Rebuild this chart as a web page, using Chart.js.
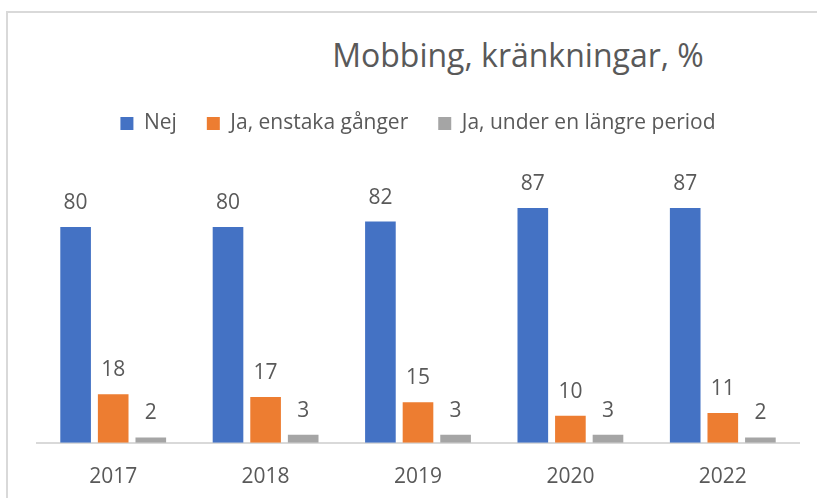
<!DOCTYPE html>
<html lang="sv">
<head>
<meta charset="utf-8">
<title>Mobbing, kränkningar, %</title>
<script src="https://cdn.jsdelivr.net/npm/chart.js@4.4.1/dist/chart.umd.min.js"></script>
<style>
  html, body { margin: 0; padding: 0; background: #fff; overflow: hidden; }
  #wrap { position: relative; width: 817px; height: 498px; }
  #frame {
    position: absolute; left: 6px; top: 11px; width: 900px; height: 600px;
    border: 2px solid #D9D9D9; box-sizing: border-box;
  }
  #title {
    position: absolute; left: 518px; top: 34px; transform: translateX(-50%);
    font-family: "Open Sans", sans-serif; font-size: 32px; color: #595959;
    white-space: nowrap; line-height: 42px;
  }
  #chart { position: absolute; left: 0; top: 0; }
</style>
</head>
<body>
<div id="wrap">
  <div id="frame"></div>
  <div id="title">Mobbing, kränkningar, %</div>
  <canvas id="chart" width="817" height="498"></canvas>
</div>
<script>
// Kategorier och serier
const years = ['2017', '2018', '2019', '2020', '2022'];
const nej = [80, 80, 82, 87, 87];
const enstaka = [18, 17, 15, 10, 11];
const langre = [2, 3, 3, 3, 2];

const TEXT = '#595959';
const FONT = '"Open Sans", sans-serif';

// Värdeetiketter ovanför staplarna
const valueLabels = {
  id: 'valueLabels',
  afterDatasetsDraw(chart) {
    const { ctx } = chart;
    ctx.save();
    ctx.font = `21px ${FONT}`;
    ctx.fillStyle = TEXT;
    ctx.textAlign = 'center';
    ctx.textBaseline = 'middle';
    chart.data.datasets.forEach((ds, i) => {
      const meta = chart.getDatasetMeta(i);
      meta.data.forEach((bar, j) => {
        ctx.fillText(String(ds.data[j]), bar.x, bar.y - 24);
      });
    });
    ctx.restore();
  },
};

// Extra luft under förklaringen, som i Excel-originalet
const legendGap = {
  id: 'legendGap',
  beforeInit(chart) {
    const fit = chart.legend.fit;
    chart.legend.fit = function () {
      fit.call(this);
      this.height += 29;
    };
  },
};

const bar = (label, data, color) => ({
  label,
  data,
  backgroundColor: color,
  borderWidth: 0,
  categoryPercentage: 0.74,
  barPercentage: 0.815,
});

new Chart(document.getElementById('chart'), {
  type: 'bar',
  data: {
    labels: years,
    datasets: [
      bar('Nej', nej, '#4472C4'),
      bar('Ja, enstaka gånger', enstaka, '#ED7D31'),
      bar('Ja, under en längre period', langre, '#A5A5A5'),
    ],
  },
  options: {
    responsive: false,
    animation: false,
    layout: { padding: { left: 37, right: 18, top: 83, bottom: -14 } },
    plugins: {
      legend: {
        position: 'top',
        labels: {
          boxWidth: 13,
          boxHeight: 13,
          padding: 30,
          color: TEXT,
          font: { family: FONT, size: 21 },
        },
      },
      tooltip: { enabled: false },
    },
    scales: {
      x: {
        grid: { display: false, drawTicks: false },
        border: { display: true, color: '#D9D9D9', width: 2 },
        ticks: { color: TEXT, font: { family: FONT, size: 21 }, padding: 22 },
      },
      y: {
        display: false,
        min: 0,
        max: 100,
      },
    },
  },
  plugins: [valueLabels, legendGap],
});
</script>
</body>
</html>
